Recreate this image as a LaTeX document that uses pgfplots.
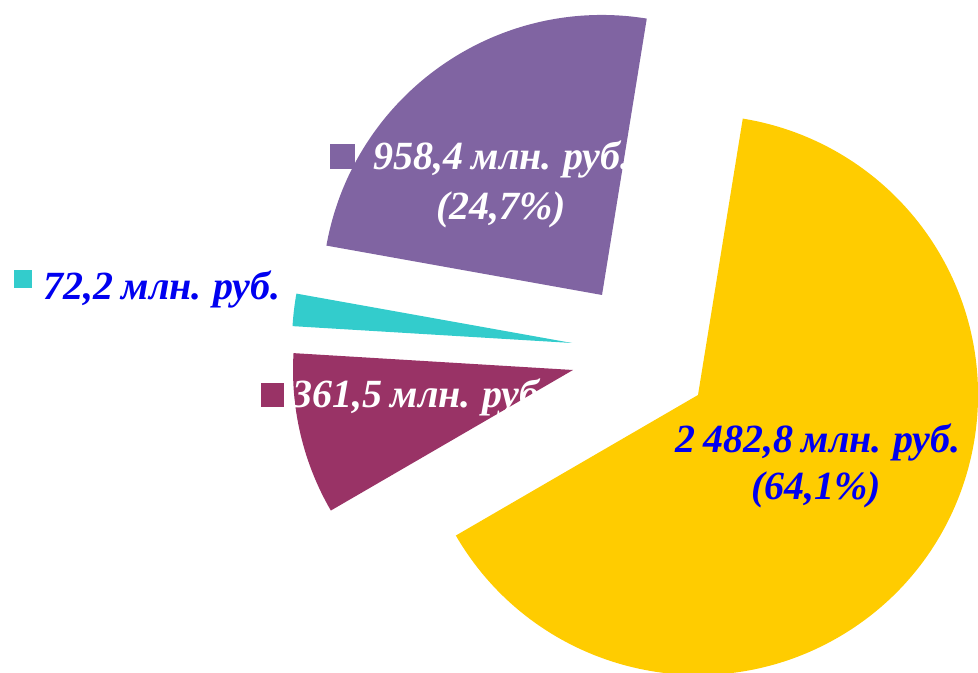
\documentclass[border=0pt]{standalone}
\usepackage{pgfplots}
\pgfplotsset{compat=1.18}
\usepackage{pgfplotstable}
\usepackage{fontspec}
\setmainfont{Liberation Serif}
\definecolor{cPurple}{HTML}{8064A2}
\definecolor{cCyan}{HTML}{33CCCC}
\definecolor{cMaroon}{HTML}{993366}
\definecolor{cYellow}{HTML}{FFCC00}
\definecolor{cBlue}{HTML}{0000F0}
% values, million roubles
\pgfplotstableread{
name   value   cx   cy
purple 958.4   602  378
cyan   72.2    572  330
maroon 361.5   573  303
yellow 2482.8  698  278
}\piedata
\pgfplotstablegetelem{0}{value}\of\piedata \let\vP\pgfplotsretval
\pgfplotstablegetelem{1}{value}\of\piedata \let\vC\pgfplotsretval
\pgfplotstablegetelem{2}{value}\of\piedata \let\vM\pgfplotsretval
\pgfplotstablegetelem{3}{value}\of\piedata \let\vY\pgfplotsretval
\pgfmathsetmacro\tot{\vP+\vC+\vM+\vY}
\pgfmathsetmacro\aA{80.8}
\pgfmathsetmacro\aB{\aA+360*(\vP/\tot)}
\pgfmathsetmacro\aC{\aB+360*(\vC/\tot)}
\pgfmathsetmacro\aD{\aC+360*(\vM/\tot)}
\pgfmathsetmacro\aE{\aD+360*(\vY/\tot)}
\newcommand\lab{\fontsize{20}{23}\selectfont\bfseries\itshape\spaceskip=0.2em plus 0.05em}
\begin{document}
\begin{tikzpicture}
\begin{axis}[
  x=0.5pt, y=0.5pt,
  xmin=0, xmax=978, ymin=0, ymax=673,
  hide axis, clip=true, scale only axis,
]
\def\R{140pt}
\fill[cPurple] (axis cs:602,378) -- ++(\aA:\R) arc[start angle=\aA, end angle=\aB, radius=\R] -- cycle;
\fill[cCyan]   (axis cs:572,330) -- ++(\aB:\R) arc[start angle=\aB, end angle=\aC, radius=\R] -- cycle;
\fill[cMaroon] (axis cs:573,303) -- ++(\aC:\R) arc[start angle=\aC, end angle=\aD, radius=\R] -- cycle;
\fill[cYellow] (axis cs:698,278) -- ++(\aD:\R) arc[start angle=\aD, end angle=\aE, radius=\R] -- cycle;
% legend squares
\addplot[only marks, mark=square*, mark size=6pt, color=cPurple, draw=none] coordinates {(342.5,516.5)};
\addplot[only marks, mark=square*, mark size=4.25pt, color=cCyan, draw=none] coordinates {(23,394)};
\addplot[only marks, mark=square*, mark size=5.6pt, color=cMaroon, draw=none] coordinates {(272.5,278)};
% labels
\node[anchor=base, white, inner sep=0pt] at (axis cs:502,503) {\lab 958,4 млн. руб.};
\node[anchor=base, white, inner sep=0pt] at (axis cs:501,453) {\lab (24,7\%)};
\node[anchor=base, cBlue, inner sep=0pt] at (axis cs:162,373) {\lab 72,2 млн. руб.};
\node[anchor=base, white, inner sep=0pt] at (axis cs:421,265) {\lab 361,5 млн. руб.};
\node[anchor=base, cBlue, inner sep=0pt] at (axis cs:818,220) {\lab 2 482,8 млн. руб.};
\node[anchor=base, cBlue, inner sep=0pt] at (axis cs:816,173) {\lab (64,1\%)};
\end{axis}
\pgfresetboundingbox
\useasboundingbox (current axis.south west) rectangle (current axis.north east);
\end{tikzpicture}
\end{document}
